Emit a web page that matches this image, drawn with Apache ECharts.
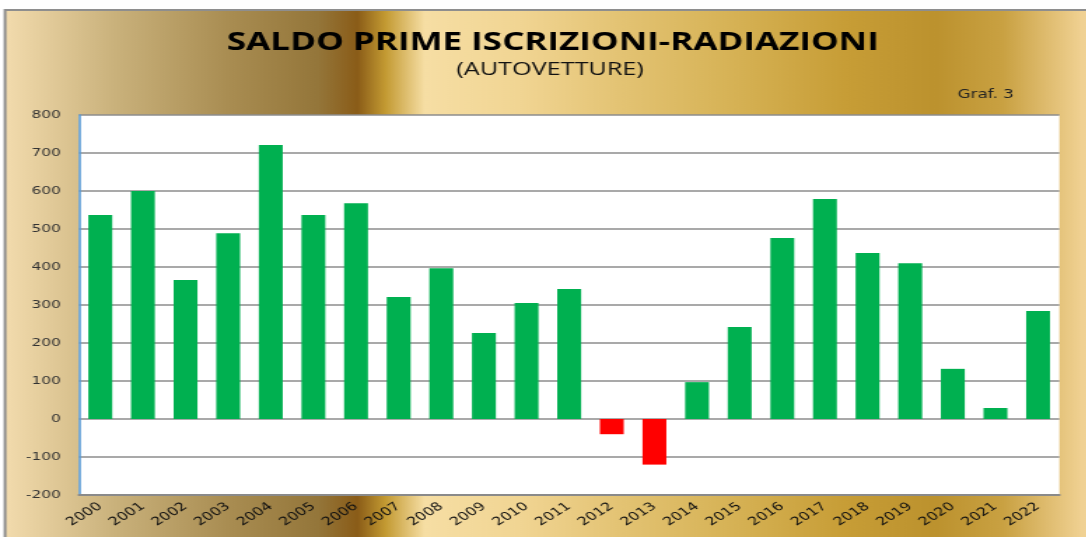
<!DOCTYPE html>
<html><head><meta charset="utf-8">
<script src="https://cdn.jsdelivr.net/npm/echarts@6/dist/echarts.min.js"></script>
<style>
html,body{margin:0;padding:0;background:#fff;overflow:hidden;width:1087px;height:537px}
#c{width:776.43px;height:537px;transform:scaleX(1.4);transform-origin:0 0}
</style>
</head><body><div id="c"></div>
<script>
const years = ['2000','2001','2002','2003','2004','2005','2006','2007','2008','2009','2010','2011','2012','2013','2014','2015','2016','2017','2018','2019','2020','2021','2022'];
const saldo = [537,600,366,489,721,537,568,321,397,226,305,342,-40,-120,97,242,476,579,437,410,132,29,284];
const yMin = -200, yMax = 800, yStep = 100;
const titleText = 'SALDO PRIME ISCRIZIONI-RADIAZIONI';
const subtitleText = '(AUTOVETTURE)';
const noteText = 'Graf. 3';

const gold = new echarts.graphic.LinearGradient(0,0,1,0,[
  {offset:0,color:'#f3dcae'},
  {offset:0.1,color:'#c9b17b'},
  {offset:0.2,color:'#a98d52'},
  {offset:0.28,color:'#94763a'},
  {offset:0.315,color:'#8a5c18'},
  {offset:0.34,color:'#c39a32'},
  {offset:0.375,color:'#f6dea4'},
  {offset:0.46,color:'#f1d593'},
  {offset:0.55,color:'#e3c373'},
  {offset:0.65,color:'#d6b255'},
  {offset:0.75,color:'#c79d36'},
  {offset:0.83,color:'#bc922e'},
  {offset:0.89,color:'#c9a142'},
  {offset:0.96,color:'#f0d192'},
  {offset:1,color:'#f6dcaa'}
]);

const chart = echarts.init(document.getElementById('c'), null, {renderer:'canvas'});
chart.setOption({
  backgroundColor:'#ffffff',
  animation:false,
  graphic:[
    {type:'rect', z:-10, shape:{x:3.6,y:10,width:800,height:540}, style:{fill:gold, stroke:'#8e8e8e', lineWidth:2}},
    {type:'text', left:162, top:30, style:{text:titleText, font:'bold 25px "Open Sans", "Noto Sans", sans-serif', fill:'#000'}},
    {type:'text', left:326, top:61, style:{text:subtitleText, font:'18px "Open Sans", "Noto Sans", sans-serif', fill:'#111'}},
    {type:'text', left:684, top:89, style:{text:noteText, font:'12px "DejaVu Sans", Verdana, sans-serif', fill:'#222'}}
  ],
  grid:{left:56.4, right:19.3, top:115, bottom:42, show:true, backgroundColor:'#ffffff', borderWidth:0},
  xAxis:{
    type:'category', data:years,
    axisLine:{onZero:false, lineStyle:{color:'#8a8a8a', width:2}},
    axisTick:{show:false},
    axisLabel:{rotate:40, interval:0, margin:10, color:'#111', fontSize:11.5, fontFamily:'"DejaVu Sans", Verdana, sans-serif'}
  },
  yAxis:{
    type:'value', min:yMin, max:yMax, interval:yStep,
    axisLine:{show:true, lineStyle:{color:'#5b9bd5', width:1.6}},
    axisTick:{show:false},
    axisLabel:{color:'#333', fontSize:11, fontFamily:'"DejaVu Sans", Verdana, sans-serif', margin:13},
    splitLine:{lineStyle:{color:'#8c8c8c', width:1.5}}
  },
  series:[{
    type:'bar', barWidth:'56%',
    data: saldo.map(v => ({value:v, itemStyle:{color: v < 0 ? '#ff0000' : '#00b050'}}))
  }]
});
</script></body></html>
